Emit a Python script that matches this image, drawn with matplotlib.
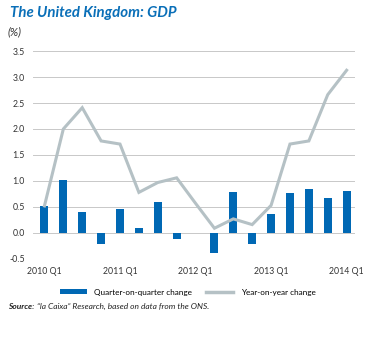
import numpy as np
import matplotlib.pyplot as plt
from matplotlib.lines import Line2D
from matplotlib.patches import Patch

plt.rcParams['font.family'] = ['Lato', 'DejaVu Sans']

quarters = ['2010 Q1', '2010 Q2', '2010 Q3', '2010 Q4',
            '2011 Q1', '2011 Q2', '2011 Q3', '2011 Q4',
            '2012 Q1', '2012 Q2', '2012 Q3', '2012 Q4',
            '2013 Q1', '2013 Q2', '2013 Q3', '2013 Q4',
            '2014 Q1']
qoq = [0.52, 1.02, 0.40, -0.21, 0.46, 0.09, 0.60, -0.11, -0.01,
       -0.39, 0.78, -0.22, 0.36, 0.77, 0.85, 0.68, 0.80]
yoy = [0.52, 2.00, 2.41, 1.77, 1.71, 0.78, 0.97, 1.06, 0.57,
       0.09, 0.27, 0.16, 0.53, 1.71, 1.77, 2.66, 3.13]
yticks = [-0.5, 0.0, 0.5, 1.0, 1.5, 2.0, 2.5, 3.0, 3.5]

blue = '#0068b4'
grey = '#b5c1c5'

fig = plt.figure(figsize=(3.68, 3.38), dpi=100)
ax = fig.add_axes([0.09, 0.234, 0.875, 0.615])

x = np.arange(len(quarters))
ax.bar(x, qoq, width=0.42, color=blue, zorder=3)
ax.plot(x, yoy, color=grey, lw=2.2, zorder=4, solid_joinstyle='miter')

ax.set_xlim(-0.6, 16.45)
ax.set_ylim(-0.5, 3.5)
ax.set_yticks(yticks)
ax.set_yticklabels([f'{v:.1f}' for v in yticks])
ax.set_xticks(x[::4])
ax.set_xticklabels([quarters[i] for i in range(0, len(quarters), 4)])
ax.grid(axis='y', color='#c8c8c8', lw=0.7, zorder=0)
for s in ax.spines.values():
    s.set_visible(False)
ax.tick_params(length=0, labelsize=6.3, colors='#333333')
ax.tick_params(axis='y', pad=6)
ax.tick_params(axis='x', pad=6)

fig.text(0.027, 0.963, 'The United Kingdom: GDP', color='#0a6fb8',
         fontsize=10.8, fontweight='bold', fontstyle='italic', va='center')
fig.text(0.02, 0.905, '(%)', fontsize=8, fontstyle='italic', color='#333333',
         va='center')

handles = [Patch(facecolor=blue), Line2D([], [], color=grey, lw=2.5)]
fig.legend(handles, ['Quarter-on-quarter change', 'Year-on-year change'],
           loc='center', bbox_to_anchor=(0.51, 0.136), ncol=2, frameon=False,
           fontsize=5.9, handlelength=3.3, handleheight=0.5,
           columnspacing=1.7, handletextpad=0.9)

# source line: bold lead-in followed by italic text
src = fig.text(0.022, 0.092, 'Source:', fontsize=6.0, fontweight='bold',
               fontstyle='italic', color='#222222', va='center')
fig.canvas.draw()
bb = src.get_window_extent().transformed(fig.transFigure.inverted())
fig.text(bb.x1 + 0.007, 0.092,
         '\u201cla Caixa\u201d Research, based on data from the ONS.',
         fontsize=6.0, fontstyle='italic', color='#222222', va='center')

fig.savefig('out.png', dpi=100)
